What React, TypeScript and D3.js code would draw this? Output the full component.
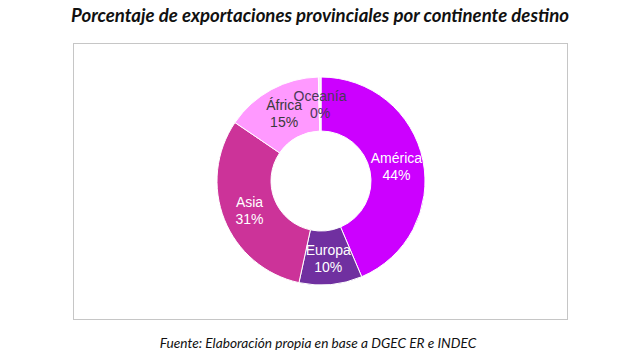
import React from "react";
import * as d3 from "d3";

const categories = ["América", "Europa", "Asia", "África", "Oceanía"];
const values = [43.6, 9.8, 31.1, 15.1, 0.4];
const valueLabels = ["44%", "10%", "31%", "15%", "0%"];
const colors = ["#CC00FF", "#7030A0", "#CC3399", "#FF99FF", "#F8F0F8"];
const labelColors = ["#FFFFFF", "#FFFFFF", "#FFFFFF", "#3A3A3A", "#4A3858"];

const title = "Porcentaje de exportaciones provinciales por continente destino";
const source = "Fuente: Elaboración propia en base a DGEC ER e INDEC";

const W = 642;
const H = 361;

export default function App() {
  const cx = 321;
  const cy = 181;
  const outerR = 104;
  const innerR = 50;

  const data = categories.map((c, i) => ({ name: c, value: values[i], label: valueLabels[i], color: colors[i], text: labelColors[i] }));
  const pie = d3.pie<any>().value((d) => d.value).sort(null);
  const arcs = pie(data);
  const arc = d3.arc<any>().innerRadius(innerR).outerRadius(outerR);

  return (
    <div style={{ position: "absolute", left: 0, top: 0 }}>
      <svg width={W} height={H} viewBox={`0 0 ${W} ${H}`} style={{ display: "block", background: "#fff" }}>
        <rect x={0} y={0} width={W} height={H} fill="#ffffff" />
        <text
          x={320}
          y={22}
          textAnchor="middle"
          fontFamily="Lato, 'Open Sans', sans-serif"
          fontWeight="bold"
          fontStyle="italic"
          fontSize={18.6}
          fill="#111"
        >
          {title}
        </text>
        <rect x={73.5} y={43.5} width={494} height={276} fill="#fff" stroke="#c6c6c6" strokeWidth={1} />
        <g transform={`translate(${cx},${cy})`}>
          {arcs.map((a, i) => (
            <path key={i} d={arc(a) as string} fill={a.data.color} stroke="#ffffff" strokeWidth={1} />
          ))}
          {arcs.map((a, i) => {
            const [lx, ly] = arc.centroid(a);
            return (
              <text
                key={"t" + i}
                x={lx}
                y={ly}
                textAnchor="middle"
                fontFamily="'Liberation Sans', Arial, sans-serif"
                fontSize={14}
                fill={a.data.text}
              >
                <tspan x={lx} dy={-3}>{a.data.name}</tspan>
                <tspan x={lx} dy={17}>{a.data.label}</tspan>
              </text>
            );
          })}
        </g>
        <text
          x={318}
          y={348}
          textAnchor="middle"
          fontFamily="Lato, 'Open Sans', sans-serif"
          fontStyle="italic"
          fontSize={13.7}
          fill="#111"
        >
          {source}
        </text>
      </svg>
    </div>
  );
}
